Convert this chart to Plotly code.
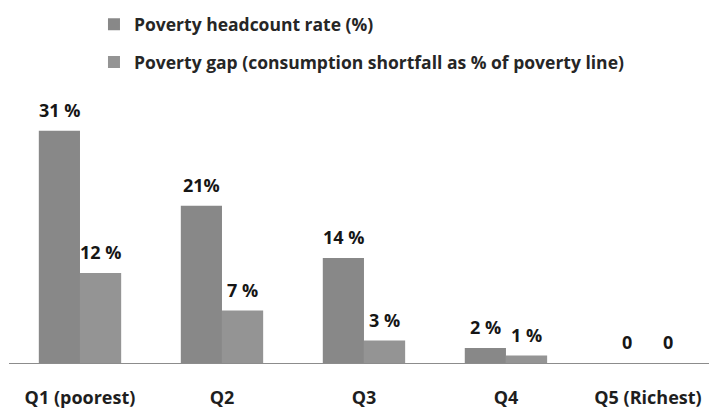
import plotly.graph_objects as go

# Poverty indicators by consumption quintile
quintiles = ["Q1 (poorest)", "Q2", "Q3", "Q4", "Q5 (Richest)"]
headcount = [31, 21, 14, 2, 0]
headcount_labels = ["31 %", "21%", "14 %", "2 %", "0"]
gap = [12, 7, 3, 1, 0]
gap_labels = ["12 %", "7 %", "3 %", "1 %", "0"]

FONT = "Open Sans"
FS = 18

fig = go.Figure()
fig.add_trace(go.Bar(
    x=quintiles, y=headcount, name="Poverty headcount rate (%)",
    marker=dict(color="#888888", line=dict(width=0)),
    offsetgroup="a", legendgroup="a",
))
fig.add_trace(go.Bar(
    x=quintiles, y=gap,
    name="Poverty gap (consumption shortfall as % of poverty line)",
    marker=dict(color="#949494", line=dict(width=0)),
    offsetgroup="b", legendgroup="b",
))

# value labels above each bar
annotations = []
for cat, v, t in zip(quintiles, headcount, headcount_labels):
    annotations.append(dict(x=cat, y=v, text=t, xshift=-20.5, yshift=21,
                            showarrow=False, yanchor="middle"))
for cat, v, t in zip(quintiles, gap, gap_labels):
    annotations.append(dict(x=cat, y=v, text=t, xshift=20.5, yshift=21,
                            showarrow=False, yanchor="middle"))
for a in annotations:
    a["font"] = dict(family=FONT, size=FS, color="#161616", weight="bold")

fig.update_layout(
    width=709, height=409,
    margin=dict(l=9, r=0, t=100, b=42),
    paper_bgcolor="white", plot_bgcolor="white",
    barmode="group", bargap=0.42, bargroupgap=0,
    font=dict(family=FONT, size=FS, color="#222222"),
    showlegend=True,
    legend=dict(
        x=0.1214, y=1.356, xanchor="left", yanchor="top",
        orientation="v", tracegroupgap=12,
        font=dict(family=FONT, size=17.5, color="#262626", weight="bold"),
        itemwidth=30, bgcolor="rgba(0,0,0,0)",
    ),
    annotations=annotations,
)
fig.update_xaxes(
    type="category", range=[-0.5, 4.43],
    showline=True, linecolor="#8c8c8c", linewidth=1,
    ticks="outside", ticklen=18, tickcolor="rgba(0,0,0,0)",
    tickfont=dict(family=FONT, size=FS, color="#1e1e1e", weight="bold"),
    showgrid=False, zeroline=False,
)
fig.update_yaxes(
    range=[0, 35.1], visible=False, showgrid=False, zeroline=False,
)

fig.write_html("out.html")
